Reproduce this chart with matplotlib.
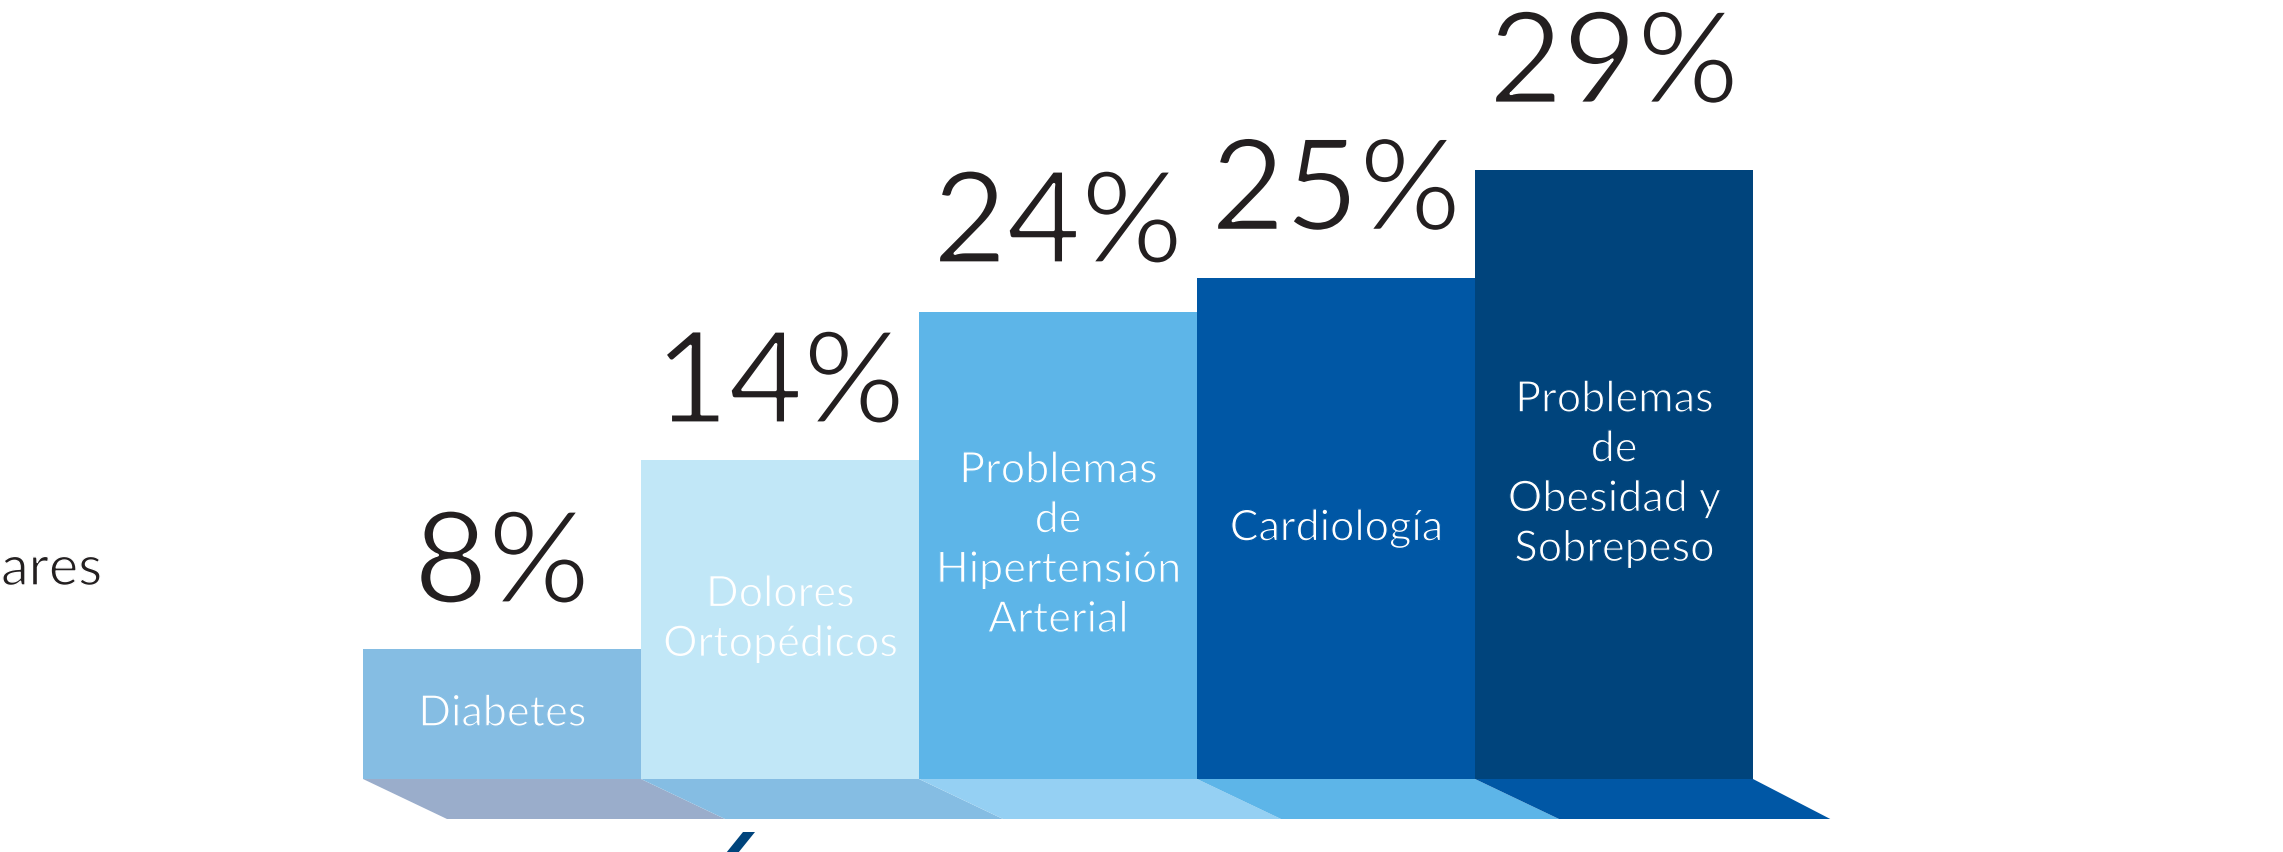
import matplotlib
matplotlib.use("Agg")
import matplotlib.pyplot as plt
from matplotlib.patches import Polygon
import matplotlib.patheffects as pe

# ---------------- data ----------------
categories = ["Diabetes", "Dolores\nOrtopédicos", "Problemas\nde\nHipertensión\nArterial",
              "Cardiología", "Problemas\nde\nObesidad y\nSobrepeso"]
values = [8, 14, 24, 25, 29]
value_labels = [f"{v}%" for v in values]
# drawn bar heights (the infographic is not drawn to scale)
bar_heights = [6.2, 15.2, 22.25, 23.85, 29.0]
side_text = "ares"

# ---------------- style ----------------
bar_colors = ["#85BDE3", "#C1E7F7", "#5DB5E8", "#0057A5", "#00447C"]
base_colors = ["#9AADCB", "#85BDE3", "#95D0F3", "#5DB5E8", "#0057A5"]
label_gap_px = [46, 37, 49, 48, 67]
FONT = ["Lato", "DejaVu Sans"]
thin = [pe.Normal(), pe.Stroke(linewidth=2.0, foreground="white")]

W, H = 2283, 852
fig = plt.figure(figsize=(W / 100, H / 100), dpi=100)
fig.patch.set_facecolor("white")

px_per_unit = 21.0
left_px, right_px, base_px = 363, 1753, 779
ymax = 37
ax = fig.add_axes([left_px / W, (H - base_px) / H, (right_px - left_px) / W, ymax * px_per_unit / H])
ax.set_xlim(-0.5, 4.5)
ax.set_ylim(0, ymax)
ax.axis("off")

x = list(range(len(categories)))
ax.bar(x, bar_heights, width=1.0, color=bar_colors, linewidth=0, clip_on=False, zorder=2)

# floor parallelograms under each bar
depth = 40 / px_per_unit
shift = 84 / ((right_px - left_px) / len(categories))
for i, c in enumerate(base_colors):
    xl, xr = i - 0.5, i + 0.5
    sr = shift if i < len(categories) - 1 else shift * 0.92
    poly = Polygon([(xl, 0), (xr, 0), (xr + sr, -depth), (xl + shift, -depth)],
                   closed=True, facecolor=c, edgecolor="none", clip_on=False, zorder=1)
    ax.add_patch(poly)

# value labels above bars
for i, (h, lbl) in enumerate(zip(bar_heights, value_labels)):
    ax.annotate(lbl, (i, h), xytext=(0, label_gap_px[i]), textcoords="offset pixels",
                ha="center", va="baseline", fontsize=92, color="#231F20",
                family=FONT, annotation_clip=False, path_effects=thin)

# category labels inside bars
for i, (h, cat) in enumerate(zip(bar_heights, categories)):
    ax.text(i, h / 2, cat, ha="center", va="center", multialignment="center",
            color="white", fontsize=31, linespacing=1.38, family=FONT, zorder=3,
            path_effects=[pe.Normal(), pe.Stroke(linewidth=0.9, foreground=bar_colors[i])])

# text entering from the left edge
fig.text(1 / W, 1 - 585 / H, side_text, ha="left", va="baseline", fontsize=40,
         color="#231F20", family=FONT,
         path_effects=[pe.Normal(), pe.Stroke(linewidth=1.0, foreground="white")])

# cut-off dark glyph at bottom edge
pts = [(743, 832), (755, 832), (734, 858), (722, 858)]
fig.patches.append(Polygon([(px / W, 1 - py / H) for px, py in pts], closed=True,
                           facecolor="#00447C", edgecolor="none",
                           transform=fig.transFigure, figure=fig))

fig.savefig("out.png", dpi=100, facecolor="white")
